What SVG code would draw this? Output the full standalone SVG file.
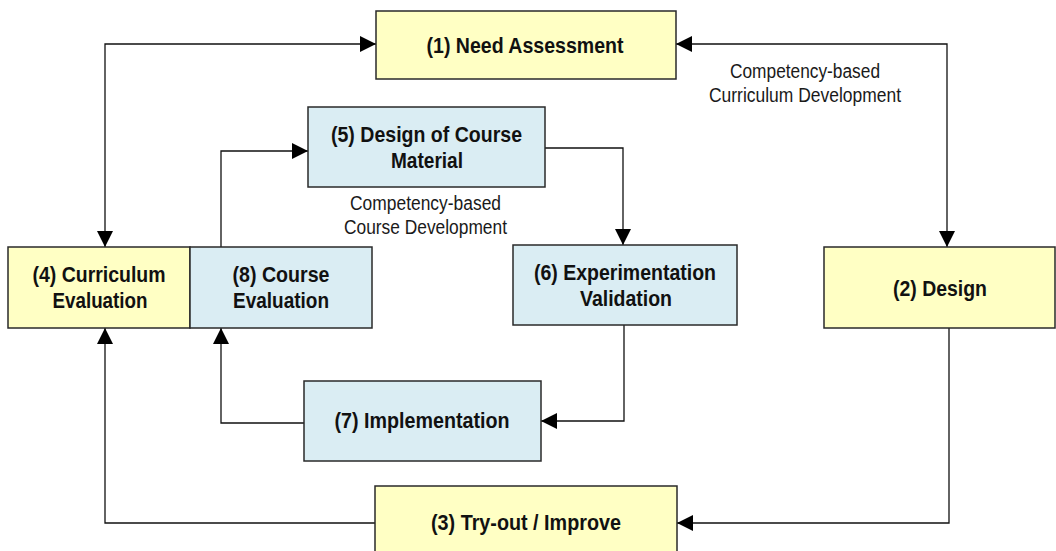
<svg xmlns="http://www.w3.org/2000/svg" width="1056" height="551" viewBox="0 0 1056 551">
<style>
.y{fill:#ffffc4;stroke:#2a2a2a;stroke-width:1.5}
.b{fill:#daedf3;stroke:#2a2a2a;stroke-width:1.5}
.t{font-family:"Liberation Sans",Arial,sans-serif;font-weight:bold;font-size:21.5px;fill:#111;text-anchor:middle}
.r{font-family:"Liberation Sans",Arial,sans-serif;font-size:19.5px;fill:#1a1a1a;text-anchor:middle}
.c{fill:none;stroke:#111;stroke-width:1.3}
</style>
<defs>
<marker id="ah" markerUnits="userSpaceOnUse" markerWidth="16" markerHeight="16" viewBox="0 0 15 15" refX="15" refY="7.5" orient="auto-start-reverse">
<path d="M0,0 L15,7.5 L0,15 z" fill="#000"/>
</marker>
</defs>
<rect width="1056" height="551" fill="#fff"/>
<g id="connectors">
<path class="c" d="M376,44 H105 V247" marker-start="url(#ah)" marker-end="url(#ah)"/>
<path class="c" d="M676,44 H947 V247" marker-start="url(#ah)" marker-end="url(#ah)"/>
<path class="c" d="M949,328 V523 H677" marker-end="url(#ah)"/>
<path class="c" d="M375,523 H105 V328" marker-end="url(#ah)"/>
<path class="c" d="M221,247 V151 H308" marker-end="url(#ah)"/>
<path class="c" d="M545,148 H623 V245" marker-end="url(#ah)"/>
<path class="c" d="M624,325 V421 H541" marker-end="url(#ah)"/>
<path class="c" d="M304,423 H221 V328" marker-end="url(#ah)"/>
</g>
<g id="label-curriculum">
<text class="r" x="805" y="78" textLength="150" lengthAdjust="spacingAndGlyphs">Competency-based</text>
<text class="r" x="805" y="102" textLength="192" lengthAdjust="spacingAndGlyphs">Curriculum Development</text>
</g>
<g id="label-course">
<text class="r" x="425.5" y="210" textLength="151" lengthAdjust="spacingAndGlyphs">Competency-based</text>
<text class="r" x="425.5" y="234" textLength="163" lengthAdjust="spacingAndGlyphs">Course Development</text>
</g>
<g id="node1">
<rect class="y" x="376" y="11" width="300" height="68"/>
<text class="t" x="525" y="53" textLength="197" lengthAdjust="spacingAndGlyphs">(1) Need Assessment</text>
</g>
<g id="node2">
<rect class="y" x="824" y="247" width="231" height="81"/>
<text class="t" x="940" y="296" textLength="94" lengthAdjust="spacingAndGlyphs">(2) Design</text>
</g>
<g id="node3">
<rect class="y" x="375" y="486" width="302" height="80"/>
<text class="t" x="526" y="530" textLength="190" lengthAdjust="spacingAndGlyphs">(3) Try-out / Improve</text>
</g>
<g id="node4">
<rect class="y" x="8" y="247" width="182" height="81"/>
<text class="t" x="99" y="282" textLength="133" lengthAdjust="spacingAndGlyphs">(4) Curriculum</text>
<text class="t" x="100" y="308" textLength="95" lengthAdjust="spacingAndGlyphs">Evaluation</text>
</g>
<g id="node8">
<rect class="b" x="190" y="247" width="182" height="81"/>
<text class="t" x="281" y="282" textLength="97" lengthAdjust="spacingAndGlyphs">(8) Course</text>
<text class="t" x="281" y="308" textLength="96" lengthAdjust="spacingAndGlyphs">Evaluation</text>
</g>
<g id="node5">
<rect class="b" x="308" y="107" width="237" height="80"/>
<text class="t" x="426.5" y="142" textLength="191" lengthAdjust="spacingAndGlyphs">(5) Design of Course</text>
<text class="t" x="427" y="168" textLength="72" lengthAdjust="spacingAndGlyphs">Material</text>
</g>
<g id="node6">
<rect class="b" x="513" y="245" width="224" height="80"/>
<text class="t" x="625" y="280" textLength="182" lengthAdjust="spacingAndGlyphs">(6) Experimentation</text>
<text class="t" x="626" y="306" textLength="92" lengthAdjust="spacingAndGlyphs">Validation</text>
</g>
<g id="node7">
<rect class="b" x="304" y="381" width="237" height="80"/>
<text class="t" x="422" y="428" textLength="175" lengthAdjust="spacingAndGlyphs">(7) Implementation</text>
</g>
</svg>
